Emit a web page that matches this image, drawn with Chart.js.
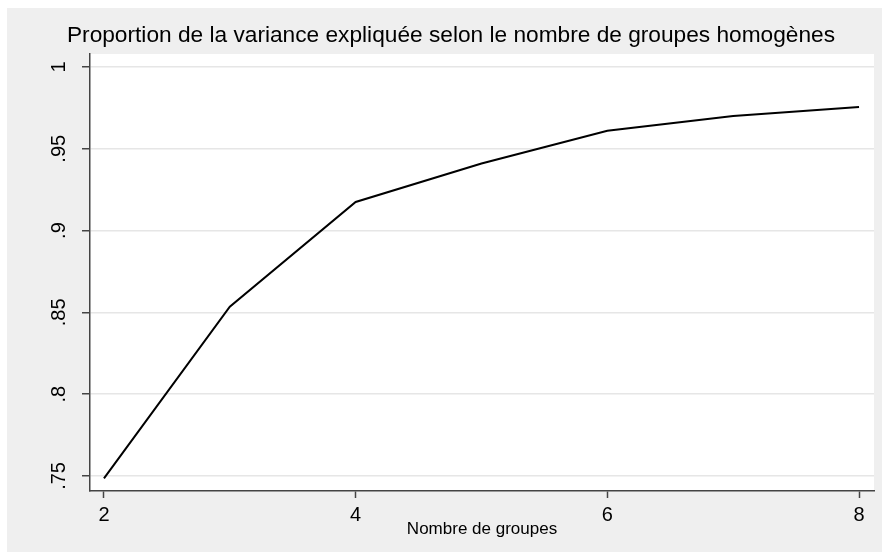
<!DOCTYPE html>
<html>
<head>
<meta charset="utf-8">
<script src="https://cdn.jsdelivr.net/npm/chart.js@4"></script>
<style>
    body { margin: 0; background: #fff; }
    #wrap { position: absolute; left: 7px; top: 8px; width: 875px; height: 544px; background: #efefef; }
</style>
</head>
<body>
<div id="wrap"><canvas id="myChart" width="875" height="544"></canvas></div>
<script>
const groupes = [2, 3, 4, 5, 6, 7, 8];
const varianceExpliquee = [0.7485, 0.8535, 0.9175, 0.941, 0.961, 0.970, 0.9755];
const xTicks = [2, 4, 6, 8];
const yTicks = [0.75, 0.8, 0.85, 0.9, 0.95, 1];
const yTickLabels = ['.75', '.8', '.85', '.9', '.95', '1'];
const titre = 'Proportion de la variance expliquée selon le nombre de groupes homogènes';
const titreX = 'Nombre de groupes';

const FONT = "'Liberation Sans', Arial, sans-serif";

document.addEventListener("DOMContentLoaded", function () {
    const ctx = document.getElementById('myChart');

    // fond blanc de la zone de tracé + étiquettes Y tournées
    const plotStyle = {
        id: 'plotStyle',
        beforeDraw(chart) {
            const a = chart.chartArea;
            const c = chart.ctx;
            c.save();
            c.fillStyle = '#fff';
            c.fillRect(a.left, a.top, a.right - a.left, a.bottom - a.top);
            c.restore();
        },
        afterDraw(chart) {
            const s = chart.scales.y;
            const c = chart.ctx;
            c.save();
            c.font = '20px ' + FONT;
            c.fillStyle = '#000';
            c.textAlign = 'center';
            c.textBaseline = 'middle';
            yTicks.forEach((v, i) => {
                c.save();
                c.translate(52, s.getPixelForValue(v));
                c.rotate(-Math.PI / 2);
                c.fillText(yTickLabels[i], 0, 0);
                c.restore();
            });
            c.restore();
        }
    };

    new Chart(ctx, {
        type: 'line',
        data: {
            datasets: [{
                data: groupes.map((g, i) => ({ x: g, y: varianceExpliquee[i] })),
                borderColor: '#000',
                borderWidth: 2,
                pointRadius: 0,
                tension: 0,
                fill: false
            }]
        },
        options: {
            responsive: false,
            animation: false,
            layout: { padding: { left: 21, right: 8, top: 0, bottom: 0 } },
            plugins: {
                legend: { display: false },
                tooltip: { enabled: false },
                title: {
                    display: true,
                    text: titre,
                    color: '#000',
                    font: { family: FONT, size: 22.7, weight: 'normal' },
                    padding: { top: 14.6, bottom: 4.2 }
                }
            },
            scales: {
                x: {
                    type: 'linear',
                    min: 1.889,
                    max: 8.119,
                    afterBuildTicks: s => { s.ticks = xTicks.map(v => ({ value: v })); },
                    afterFit: s => { s.height = 61; },
                    grid: { drawOnChartArea: false, drawTicks: true, tickLength: 7, tickColor: '#444', tickWidth: 1.5 },
                    border: { color: '#444', width: 1.5 },
                    ticks: { color: '#000', font: { family: FONT, size: 20 }, padding: 5, maxRotation: 0 },
                    title: { display: true, text: titreX, color: '#000', font: { family: FONT, size: 17 }, padding: { top: 12.5, bottom: 12.5 } }
                },
                y: {
                    min: 0.7408,
                    max: 1.0079,
                    afterBuildTicks: s => { s.ticks = yTicks.map(v => ({ value: v })); },
                    afterFit: s => { s.width = 62; },
                    grid: { color: '#e6e6e6', lineWidth: 1.5, drawTicks: true, tickLength: 8, tickColor: '#444', tickWidth: 1.5 },
                    border: { color: '#444', width: 1.5 },
                    ticks: { display: false }
                }
            }
        },
        plugins: [plotStyle]
    });
});
</script>
</body>
</html>
